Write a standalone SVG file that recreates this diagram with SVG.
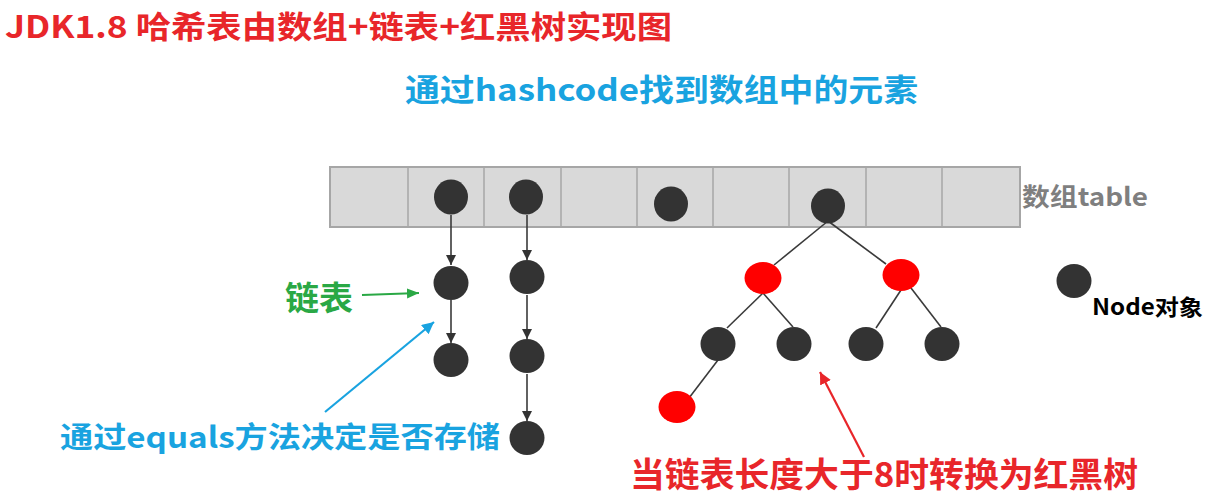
<svg xmlns="http://www.w3.org/2000/svg" width="1210" height="497" viewBox="0 0 1210 497">
<style>
.t{font-family:"Noto Sans CJK SC","Liberation Sans",sans-serif;font-weight:bold}
.blk{fill:#333333}
.red{fill:#ff0000}
.edge{stroke:#3a3a3a;stroke-width:1.6;fill:none}
.cell{fill:none;stroke:#a6a6a6;stroke-width:1.5}
</style>
<defs>
<marker id="ad" markerUnits="userSpaceOnUse" markerWidth="12" markerHeight="12" refX="10" refY="5" orient="auto"><path d="M0,0 L10,5 L0,10 Z" fill="#333333"/></marker>
<marker id="ag" markerUnits="userSpaceOnUse" markerWidth="14" markerHeight="12" refX="12" refY="5" orient="auto"><path d="M0,0 L12,5 L0,10 Z" fill="#2aa845"/></marker>
<marker id="ab" markerUnits="userSpaceOnUse" markerWidth="14" markerHeight="14" refX="12" refY="6" orient="auto"><path d="M0,0 L12,6 L0,12 Z" fill="#19a3e0"/></marker>
<marker id="ar" markerUnits="userSpaceOnUse" markerWidth="14" markerHeight="14" refX="12" refY="6" orient="auto"><path d="M0,0 L12,6 L0,12 Z" fill="#e8262a"/></marker>
</defs>
<g id="title"><text class="t" x="5" y="38" font-size="31" fill="#e8262a" textLength="667" lengthAdjust="spacingAndGlyphs">JDK1.8 哈希表由数组+链表+红黑树实现图</text></g>
<g id="heading"><text class="t" x="405" y="101" font-size="31" fill="#19a3e0" textLength="513" lengthAdjust="spacingAndGlyphs">通过hashcode找到数组中的元素</text></g>
<g id="table">
<rect x="330" y="167" width="690" height="60" fill="#d9d9d9" stroke="#a6a6a6" stroke-width="2"/>
<path class="cell" d="M408,167V227 M484,167V227 M561,167V227 M637,167V227 M713,167V227 M789,167V227 M866,167V227 M942,167V227"/>
<text class="t" x="1022" y="206" font-size="25" fill="#7f7f7f" textLength="126" lengthAdjust="spacingAndGlyphs">数组table</text>
</g>
<g id="connectors">
<line class="edge" x1="451" y1="215" x2="451" y2="265" marker-end="url(#ad)"/>
<line class="edge" x1="451" y1="300" x2="451" y2="343" marker-end="url(#ad)"/>
<line class="edge" x1="527" y1="215" x2="527" y2="260" marker-end="url(#ad)"/>
<line class="edge" x1="527" y1="295" x2="527" y2="339" marker-end="url(#ad)"/>
<line class="edge" x1="527" y1="374" x2="527" y2="421" marker-end="url(#ad)"/>
<line class="edge" x1="828" y1="221" x2="774" y2="265"/>
<line class="edge" x1="828" y1="221" x2="886" y2="264"/>
<line class="edge" x1="763" y1="293" x2="727" y2="328"/>
<line class="edge" x1="763" y1="293" x2="793" y2="327"/>
<line class="edge" x1="901" y1="290" x2="876" y2="328"/>
<line class="edge" x1="911" y1="288" x2="941" y2="327"/>
<line class="edge" x1="718" y1="360" x2="689" y2="398"/>
<line x1="362" y1="295" x2="419" y2="293" stroke="#2aa845" stroke-width="2" marker-end="url(#ag)"/>
<line x1="325" y1="412" x2="434" y2="322" stroke="#19a3e0" stroke-width="2.2" marker-end="url(#ab)"/>
<line x1="864" y1="457" x2="820" y2="372" stroke="#e8262a" stroke-width="2.2" marker-end="url(#ar)"/>
</g>
<g id="n1"><ellipse class="blk" cx="451" cy="197" rx="17" ry="17.5"/></g>
<g id="n2"><ellipse class="blk" cx="526" cy="197" rx="17" ry="17.5"/></g>
<g id="n3"><ellipse class="blk" cx="671" cy="204" rx="17" ry="17.5"/></g>
<g id="n4"><ellipse class="blk" cx="828" cy="206" rx="17" ry="17.5"/></g>
<g id="l1a"><ellipse class="blk" cx="451" cy="283" rx="17.5" ry="17"/></g>
<g id="l1b"><ellipse class="blk" cx="451" cy="360" rx="17.5" ry="17"/></g>
<g id="l2a"><ellipse class="blk" cx="527" cy="277" rx="17.5" ry="17"/></g>
<g id="l2b"><ellipse class="blk" cx="527" cy="356" rx="17.5" ry="17"/></g>
<g id="l2c"><ellipse class="blk" cx="527" cy="438" rx="17.5" ry="17"/></g>
<g id="r1"><ellipse class="red" cx="763" cy="278" rx="18.5" ry="16"/></g>
<g id="r2"><ellipse class="red" cx="901" cy="275" rx="18.5" ry="16"/></g>
<g id="b1"><ellipse class="blk" cx="718" cy="344" rx="17.5" ry="17"/></g>
<g id="b2"><ellipse class="blk" cx="794" cy="344" rx="17.5" ry="17"/></g>
<g id="b3"><ellipse class="blk" cx="866" cy="344" rx="17.5" ry="17"/></g>
<g id="b4"><ellipse class="blk" cx="942" cy="344" rx="17.5" ry="17"/></g>
<g id="r3"><ellipse class="red" cx="677" cy="407" rx="18.5" ry="16"/></g>
<g id="legend">
<ellipse class="blk" cx="1074" cy="281" rx="17.5" ry="17"/>
<text class="t" x="1092" y="315" font-size="22" fill="#000000" textLength="111" lengthAdjust="spacingAndGlyphs">Node对象</text>
</g>
<g id="lbl-list"><text class="t" x="285" y="310" font-size="33" fill="#2aa845" textLength="68" lengthAdjust="spacingAndGlyphs">链表</text></g>
<g id="lbl-equals"><text class="t" x="60" y="448" font-size="29" fill="#19a3e0" textLength="440" lengthAdjust="spacingAndGlyphs">通过equals方法决定是否存储</text></g>
<g id="lbl-tree"><text class="t" x="630" y="487" font-size="34" fill="#e8262a" textLength="508" lengthAdjust="spacingAndGlyphs">当链表长度大于8时转换为红黑树</text></g>
</svg>
